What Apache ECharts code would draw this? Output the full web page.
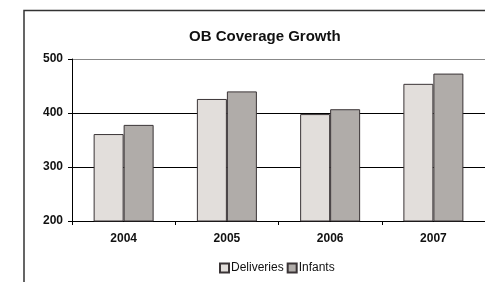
<!DOCTYPE html>
<html><head><meta charset="utf-8">
<script src="https://cdn.jsdelivr.net/npm/echarts@6/dist/echarts.min.js"></script>
<style>html,body{margin:0;padding:0;background:#fff}#c{width:485px;height:282px}</style>
</head><body><div id="c"></div>
<script>
const categories = ['2004', '2005', '2006', '2007'];
const deliveries = [361, 426, 398, 454];
const infants = [378, 440, 407, 473];
const yTicks = [200, 300, 400, 500];

const font = 'Liberation Sans, Arial, sans-serif';
const chart = echarts.init(document.getElementById('c'), null, {renderer: 'canvas'});
chart.setOption({
  animation: false,
  backgroundColor: '#fff',
  title: {
    text: 'OB Coverage Growth', left: 184, top: 24,
    textStyle: {fontFamily: font, fontSize: 15, fontWeight: 'bold', color: '#111'}
  },
  graphic: [{
    type: 'rect', shape: {x: 24, y: 10.5, width: 520, height: 320},
    style: {fill: 'none', stroke: '#333', lineWidth: 1.5}, z: -1
  }],
  legend: {
    data: ['Deliveries', 'Infants'], left: 214, top: 257,
    icon: 'rect', itemWidth: 9, itemHeight: 9, itemGap: 3,
    textStyle: {fontFamily: font, fontSize: 12, color: '#111', padding: [0, 0, 0, -3]}
  },
  grid: {left: 72, top: 59, width: 416, height: 162},
  xAxis: {
    type: 'category', data: categories,
    axisLine: {lineStyle: {color: '#000', width: 1}},
    axisTick: {show: true, length: 4, lineStyle: {color: '#000'}},
    axisLabel: {fontFamily: font, fontSize: 12, fontWeight: 'bold', color: '#111', margin: 12},
    splitLine: {show: false}
  },
  yAxis: {
    type: 'value', min: 200, max: 500, interval: 100,
    axisLine: {show: true, lineStyle: {color: '#000', width: 1}},
    axisTick: {show: true, length: 4, lineStyle: {color: '#000'}},
    axisLabel: {fontFamily: font, fontSize: 12, fontWeight: 'bold', color: '#111', margin: 9,
      customValues: yTicks},
    splitLine: {show: true, lineStyle: {color: ['#000', '#000', '#000', '#888'], width: 1}}
  },
  series: [
    {name: 'Deliveries', type: 'bar', data: deliveries, barWidth: 30, barGap: '0%',
      itemStyle: {color: '#e2dedb', borderColor: '#3a3436', borderWidth: 1}},
    {name: 'Infants', type: 'bar', data: infants, barWidth: 30, barGap: '0%',
      itemStyle: {color: '#b0aca9', borderColor: '#3a3436', borderWidth: 1}}
  ]
});
</script></body></html>
